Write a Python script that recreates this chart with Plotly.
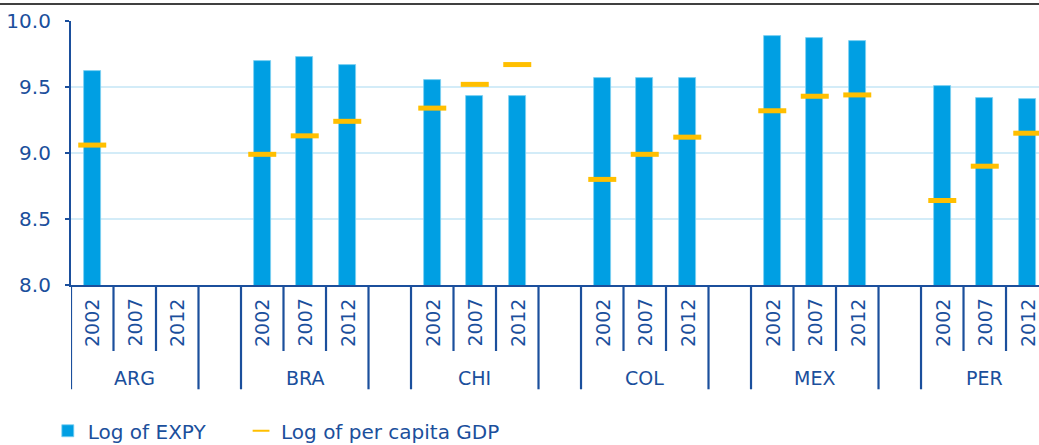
import plotly.graph_objects as go

# ---- data ----
countries = ["ARG", "BRA", "CHI", "COL", "MEX", "PER"]
years = ["2002", "2007", "2012"]
expy = [
    [9.62, None, None],
    [9.70, 9.73, 9.67],
    [9.55, 9.43, 9.43],
    [9.57, 9.57, 9.57],
    [9.89, 9.87, 9.85],
    [9.51, 9.42, 9.41],
]
gdp = [
    [9.06, None, None],
    [8.99, 9.13, 9.24],
    [9.34, 9.52, 9.67],
    [8.80, 8.99, 9.12],
    [9.32, 9.43, 9.44],
    [8.64, 8.90, 9.15],
]
y_ticks = [8.0, 8.5, 9.0, 9.5, 10.0]

# ---- styles ----
DARK = "#1B4F9C"
BLUE = "#009FE3"
YELLOW = "#FFBF00"
GRID = "#D3ECF8"
FONT = "DejaVu Sans"

slot = 4  # 3 years + 1 blank per country
xs, ye, yg = [], [], []
for ci, c in enumerate(countries):
    for yi, y in enumerate(years):
        xs.append(ci * slot + yi)
        ye.append(expy[ci][yi])
        yg.append(gdp[ci][yi])

fig = go.Figure()
fig.add_trace(go.Bar(
    x=xs, y=ye, width=0.41, name="Log of EXPY", legend="legend",
    marker=dict(color=BLUE, line=dict(color="#7FD0F2", width=0.8)),
))
fig.add_trace(go.Scatter(
    x=xs, y=yg, mode="markers", name="Log of per capita GDP", legend="legend2",
    marker=dict(symbol="line-ew", size=20, color=YELLOW,
                line=dict(color=YELLOW, width=5)),
))

shapes = []
annotations = []
for ci, c in enumerate(countries):
    start = ci * slot - 0.5
    for yi, y in enumerate(years):
        annotations.append(dict(
            x=ci * slot + yi, xref="x", y=-0.143, yref="paper",
            text=y, textangle=-90, showarrow=False,
            xanchor="center", yanchor="middle",
            font=dict(family=FONT, size=19, color=DARK),
        ))
    annotations.append(dict(
        x=ci * slot + 1, xref="x", y=-0.352, yref="paper",
        text=c, showarrow=False, xanchor="center", yanchor="middle",
        font=dict(family=FONT, size=19, color=DARK),
    ))
    for xb in (start, start + 3):
        shapes.append(dict(type="line", xref="x", yref="paper",
                           x0=xb, x1=xb, y0=0, y1=-0.395,
                           line=dict(color=DARK, width=2.2)))
    for xb in (start + 1, start + 2):
        shapes.append(dict(type="line", xref="x", yref="paper",
                           x0=xb, x1=xb, y0=0, y1=-0.25,
                           line=dict(color=DARK, width=2.2)))

# top black rule
shapes.append(dict(type="line", xref="paper", yref="paper",
                   x0=-0.08, x1=1.01, y0=1.064, y1=1.064,
                   line=dict(color="black", width=1.5)))

legend_common = dict(
    orientation="h", xref="container", yref="container",
    xanchor="left", yanchor="middle",
    font=dict(family=FONT, size=20, color=DARK),
    bgcolor="rgba(0,0,0,0)", itemclick=False, itemdoubleclick=False,
    borderwidth=0,
)

fig.update_layout(
    width=1039, height=445,
    margin=dict(l=71, r=0, t=21, b=160, autoexpand=False),
    plot_bgcolor="white", paper_bgcolor="white",
    bargap=0,
    showlegend=True,
    legend=dict(x=0.046, y=0.032, **legend_common),
    legend2=dict(x=0.232, y=0.032, itemsizing="constant", **legend_common),
    shapes=shapes,
    annotations=annotations,
    font=dict(family=FONT, color=DARK),
)
fig.update_xaxes(
    range=[-0.5, 22.276], showgrid=False, zeroline=False,
    showticklabels=False, ticks="",
    showline=True, linecolor=DARK, linewidth=2.2,
)
fig.update_yaxes(
    range=[8.0, 10.0], tickvals=y_ticks, tickformat=".1f",
    showgrid=True, gridcolor=GRID, gridwidth=1.5, zeroline=False,
    showline=True, linecolor=DARK, linewidth=2.2,
    ticks="outside", ticklen=4, tickwidth=2, tickcolor=DARK,
    ticklabelstandoff=10,
    tickfont=dict(family=FONT, size=20, color=DARK),
)

fig.write_html(
    "out.html",
    config={"displayModeBar": False},
    post_script="document.body.style.margin='0';document.body.style.overflow='hidden';",
)
